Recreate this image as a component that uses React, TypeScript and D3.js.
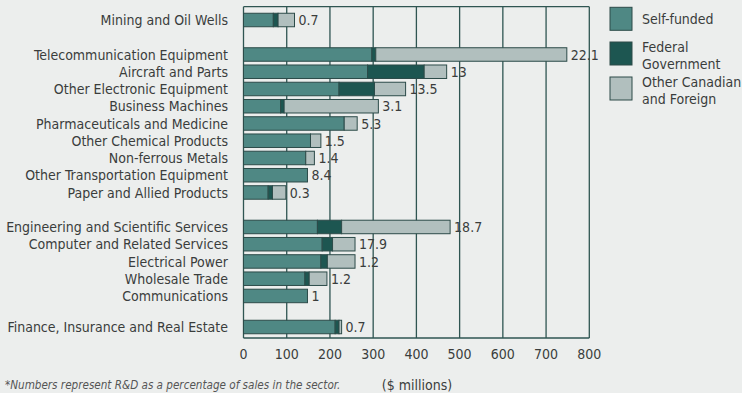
import React from "react";
import * as d3 from "d3";

const categories = [
  "Mining and Oil Wells",
  "Telecommunication Equipment",
  "Aircraft and Parts",
  "Other Electronic Equipment",
  "Business Machines",
  "Pharmaceuticals and Medicine",
  "Other Chemical Products",
  "Non-ferrous Metals",
  "Other Transportation Equipment",
  "Paper and Allied Products",
  "Engineering and Scientific Services",
  "Computer and Related Services",
  "Electrical Power",
  "Wholesale Trade",
  "Communications",
  "Finance, Insurance and Real Estate",
];
const selfFunded = [69, 297, 287, 221, 86, 233, 155, 144, 148, 57, 171, 182, 179, 142, 148, 212];
const federal = [11, 9, 131, 82, 8, 0, 0, 0, 0, 10, 56, 24, 15, 10, 0, 9];
const otherCF = [38, 442, 52, 72, 218, 30, 24, 20, 0, 31, 251, 52, 64, 41, 0, 6];
const rdPercent = ["0.7", "22.1", "13", "13.5", "3.1", "5.3", "1.5", "1.4", "8.4", "0.3", "18.7", "17.9", "1.2", "1.2", "1", "0.7"];
const xTicks = [0, 100, 200, 300, 400, 500, 600, 700, 800];
const seriesNames = ["Self-funded", "Federal Government", "Other Canadian and Foreign"];

const colors = ["#4f8884", "#1d5651", "#b1bfbe"];
const outline = "#2c4b49";
const textColor = "#3a3d3c";
const FONT = "'Liberation Sans Narrow', 'DejaVu Sans Condensed', 'Liberation Sans', sans-serif";

// slot gaps before certain categories (layout)
const gapBefore: Record<string, number> = {
  "Telecommunication Equipment": 1,
  "Engineering and Scientific Services": 1,
  "Finance, Insurance and Real Estate": 0.8,
};

export default function App() {
  const W = 742, H = 393;
  const left = 243.5, right = 589.3, top = 6.7, bottom = 338;
  const x = d3.scaleLinear().domain([0, 800]).range([left, right]);

  let slot = 0;
  const slots = categories.map((c, i) => {
    if (i > 0) slot += 1 + (gapBefore[c] || 0);
    return slot;
  });
  const y = d3.scaleLinear().domain([0, slots[slots.length - 1]]).range([20, 327]);
  const barH = 13.5;

  const stackData = categories.map((c, i) => ({ c, s0: selfFunded[i], s1: federal[i], s2: otherCF[i] }));
  const stack = d3.stack<any>().keys(["s0", "s1", "s2"])(stackData);

  return (
    <svg width={W} height={H} style={{ position: "absolute", left: 0, top: 0, background: "#eceeed" }} fontFamily={FONT}>
      <rect x={0} y={0} width={W} height={H} fill="#eceeed" />
      {/* gridlines */}
      {xTicks.map((t) => (
        <line key={t} x1={x(t)} x2={x(t)} y1={top} y2={bottom} stroke="#2f5552" strokeWidth={1.3} />
      ))}
      <line x1={left} x2={right} y1={top} y2={top} stroke="#2f5552" strokeWidth={1.3} />
      <line x1={left} x2={right} y1={bottom} y2={bottom} stroke="#2f5552" strokeWidth={1.3} />
      {/* bars */}
      {stack.map((layer, li) => (
        <g key={li}>
          {layer.map((d, i) =>
            d[1] - d[0] > 0 ? (
              <rect
                key={i}
                x={x(d[0])}
                y={y(slots[i]) - barH / 2}
                width={x(d[1]) - x(d[0])}
                height={barH}
                fill={colors[li]}
                stroke={outline}
                strokeWidth={1}
              />
            ) : null
          )}
        </g>
      ))}
      {/* value labels */}
      {categories.map((c, i) => (
        <text key={c} x={x(selfFunded[i] + federal[i] + otherCF[i]) + 4} y={y(slots[i])} dy="0.36em" fontSize={14} fill={textColor}>
          {rdPercent[i]}
        </text>
      ))}
      {/* category labels */}
      {categories.map((c, i) => (
        <text key={c} x={228} y={y(slots[i])} dy="0.36em" textAnchor="end" fontSize={14} fill={textColor}>
          {c}
        </text>
      ))}
      {/* x tick labels */}
      {xTicks.map((t) => (
        <text key={t} x={x(t)} y={354} dy="0.36em" textAnchor="middle" fontSize={14} fill={textColor}>
          {t}
        </text>
      ))}
      <text x={417} y={385} dy="0.36em" textAnchor="middle" fontSize={14} fill={textColor}>
        ($ millions)
      </text>
      <text x={5} y={385} dy="0.36em" fontSize={11.6} fontStyle="italic" fill="#555">
        *Numbers represent R&amp;D as a percentage of sales in the sector.
      </text>
      {/* legend */}
      {[
        { y0: 7.3, lines: [seriesNames[0]] },
        { y0: 42, lines: ["Federal", "Government"] },
        { y0: 77, lines: ["Other Canadian", "and Foreign"] },
      ].map((l, i) => (
        <g key={i}>
          <rect x={610} y={l.y0} width={22} height={23} fill={colors[i]} stroke={outline} strokeWidth={1} />
          {l.lines.map((t, j) => (
            <text
              key={j}
              x={642}
              y={l.lines.length === 1 ? l.y0 + 11.5 : l.y0 + 4.5 + j * 17}
              dy="0.36em"
              fontSize={14}
              fill={textColor}
            >
              {t}
            </text>
          ))}
        </g>
      ))}
    </svg>
  );
}
